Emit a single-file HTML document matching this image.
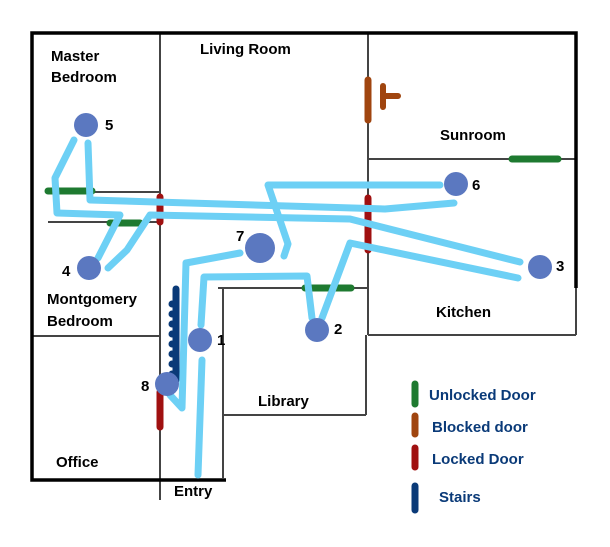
<!DOCTYPE html>
<html><head><style>
html,body{margin:0;padding:0;background:#fff;}
svg{display:block;}
text{font-family:"Liberation Sans",Arial,sans-serif;font-weight:bold;}
</style></head><body>
<svg width="610" height="547" viewBox="0 0 610 547" xmlns="http://www.w3.org/2000/svg">
<g stroke="#444" stroke-width="2" fill="none">
<line x1="160" y1="33" x2="160" y2="500"/>
<line x1="48" y1="192" x2="160" y2="192"/>
<line x1="48" y1="222" x2="160" y2="222"/>
<line x1="32" y1="336" x2="160" y2="336"/>
<line x1="368" y1="33" x2="368" y2="335"/>
<line x1="368" y1="335" x2="576" y2="335"/>
<line x1="576" y1="285" x2="576" y2="335"/>
<line x1="368" y1="159" x2="576" y2="159"/>
<line x1="218" y1="288" x2="368" y2="288"/>
<line x1="223" y1="288" x2="223" y2="478"/>
<line x1="223" y1="415" x2="366" y2="415"/>
<line x1="366" y1="335" x2="366" y2="415"/>
</g>
<g stroke="#000" stroke-width="3.5" fill="none">
<polyline points="576,288 576,33 32,33 32,480 226,480"/>
</g>
<g stroke-linecap="round" fill="none">
<line x1="48" y1="191" x2="92" y2="191" stroke="#1e7a30" stroke-width="7"/>
<line x1="110" y1="223" x2="140" y2="223" stroke="#1e7a30" stroke-width="7"/>
<line x1="512" y1="159" x2="558" y2="159" stroke="#1e7a30" stroke-width="7"/>
<line x1="305" y1="288" x2="351" y2="288" stroke="#1e7a30" stroke-width="7"/>
<line x1="368" y1="80" x2="368" y2="120" stroke="#a0450f" stroke-width="7"/>
<line x1="383" y1="86" x2="383" y2="107" stroke="#a0450f" stroke-width="6"/>
<line x1="383" y1="96" x2="398" y2="96" stroke="#a0450f" stroke-width="6"/>
<line x1="160" y1="197" x2="160" y2="222" stroke="#a01010" stroke-width="7"/>
<line x1="368" y1="198" x2="368" y2="250" stroke="#a01010" stroke-width="7"/>
<line x1="160" y1="392" x2="160" y2="427" stroke="#a01010" stroke-width="7"/>
<line x1="176" y1="289" x2="176" y2="380" stroke="#0a3a78" stroke-width="7"/>
</g>
<g fill="#0a3a78">
<circle cx="172" cy="304" r="3.5"/><circle cx="172" cy="314" r="3.5"/><circle cx="172" cy="324" r="3.5"/><circle cx="172" cy="334" r="3.5"/><circle cx="172" cy="344" r="3.5"/><circle cx="172" cy="354" r="3.5"/><circle cx="172" cy="364" r="3.5"/><circle cx="172" cy="374" r="3.5"/>
</g>
<g stroke="#6dd0f5" stroke-width="7" fill="none" stroke-linecap="round" stroke-linejoin="round">
<polyline points="74,140 55,178 57,213 120,215 98,258"/>
<polyline points="88,143 90,200 385,209 454,203"/>
<polyline points="108,268 127,250 150,215 350,219 520,262"/>
<polyline points="440,185 268,185 288,244 284,256"/>
<polyline points="240,253 186,263 182,408 170,395"/>
<polyline points="201,325 204,277 307,276 312,318"/>
<line x1="202" y1="360" x2="198" y2="475"/>
<polyline points="322,318 350,243 518,278"/>
</g>
<g fill="#5b78c0">
<circle cx="86" cy="125" r="12"/>
<circle cx="89" cy="268" r="12"/>
<circle cx="260" cy="248" r="15"/>
<circle cx="200" cy="340" r="12"/>
<circle cx="317" cy="330" r="12"/>
<circle cx="456" cy="184" r="12"/>
<circle cx="540" cy="267" r="12"/>
<circle cx="167" cy="384" r="12"/>
</g>
<g font-size="15" fill="#000">
<text x="51" y="61">Master</text>
<text x="51" y="82">Bedroom</text>
<text x="200" y="54">Living Room</text>
<text x="440" y="140">Sunroom</text>
<text x="47" y="304">Montgomery</text>
<text x="47" y="326">Bedroom</text>
<text x="436" y="317">Kitchen</text>
<text x="258" y="406">Library</text>
<text x="56" y="467">Office</text>
<text x="174" y="496">Entry</text>
<text x="105" y="130">5</text>
<text x="62" y="276">4</text>
<text x="236" y="241">7</text>
<text x="217" y="345">1</text>
<text x="334" y="334">2</text>
<text x="472" y="190">6</text>
<text x="556" y="271">3</text>
<text x="141" y="391">8</text>
</g>
<g stroke-linecap="round" stroke-width="7">
<line x1="415" y1="384" x2="415" y2="404" stroke="#1e7a30"/>
<line x1="415" y1="416" x2="415" y2="434" stroke="#a0450f"/>
<line x1="415" y1="448" x2="415" y2="467" stroke="#a01010"/>
<line x1="415" y1="486" x2="415" y2="510" stroke="#0a3a78"/>
</g>
<g font-size="15" fill="#0a3a78">
<text x="429" y="400">Unlocked Door</text>
<text x="432" y="432">Blocked door</text>
<text x="432" y="464">Locked Door</text>
<text x="439" y="502">Stairs</text>
</g>
</svg>
</body></html>
